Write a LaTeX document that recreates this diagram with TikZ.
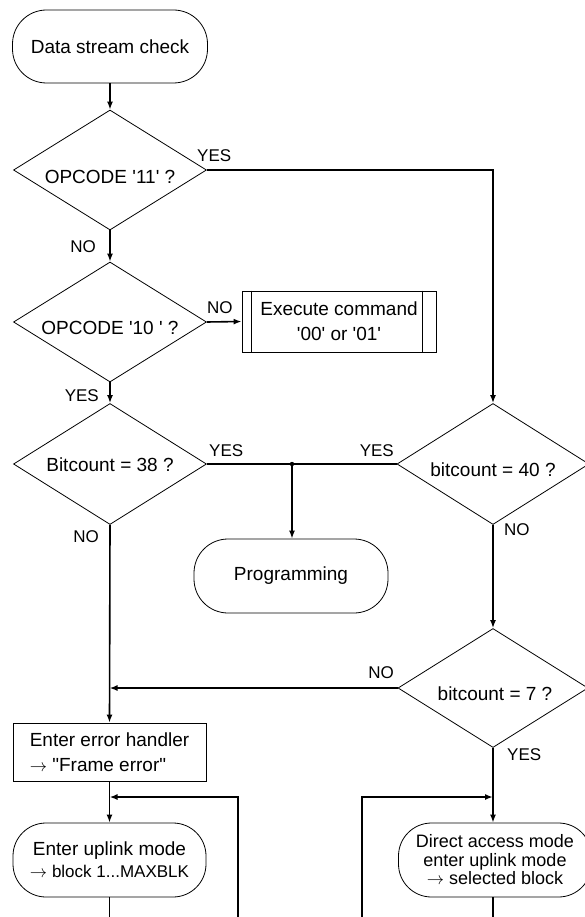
\documentclass[tikz,border=0pt]{standalone}
\usepackage{fontspec}
\setmainfont{Liberation Sans}[Ligatures=TeXOff]
\usetikzlibrary{shapes.geometric,arrows.meta}
\begin{document}
\begin{tikzpicture}[x=1pt,y=-1pt,
  shapeline/.style={draw=black, line width=0.8pt},
  termbox/.style={shapeline, rectangle, rounded corners=34pt, minimum width=194pt, minimum height=73pt, inner sep=0pt, font=\fontsize{19}{22}\selectfont, align=center},
  diabox/.style={shapeline, diamond, minimum width=193pt, minimum height=120pt, inner sep=0pt, aspect=1.6},
  dtext/.style={font=\fontsize{19}{22}\selectfont, inner sep=0pt},
  procbox/.style={shapeline, rectangle, inner sep=0pt, font=\fontsize{19}{25}\selectfont},
  flowarrow/.style={line width=1.6pt, -{Latex[length=8pt,width=6pt]}},
  plainline/.style={line width=1.6pt},
  yeslab/.style={font=\fontsize{17}{20}\selectfont, inner sep=0pt},
]
\useasboundingbox (0,0) rectangle (584,917);

% nodes
\node[termbox, minimum width=195pt] (start) at (110,46.5) {Data stream check};

\node[diabox] (d1) at (110,170) {};
\node[dtext] (t1) at (110,177) {OPCODE '11' ?};

\node[diabox] (d2) at (110,322) {};
\node[dtext] (t2) at (110,328) {OPCODE '10 ' ?};

\node[procbox, minimum width=194pt, minimum height=61pt, align=center] (proc) at (339,321.5) {Execute command\\'00' or '01'};
\draw[shapeline] ([xshift=10pt]proc.north west) -- ([xshift=10pt]proc.south west);
\draw[shapeline] ([xshift=-14pt]proc.north east) -- ([xshift=-14pt]proc.south east);

\node[diabox, minimum height=121pt] (d3) at (110,464) {};
\node[dtext] (t3) at (110,465) {Bitcount = 38 ?};

\node[diabox, minimum width=192pt, minimum height=121pt] (d4) at (493,464) {};
\node[dtext] (t4) at (493,470) {bitcount = 40 ?};

\node[termbox, minimum width=194pt, minimum height=74pt] (prog) at (291,576) {Programming};

\node[diabox, minimum width=190pt, minimum height=119pt] (d5) at (493,688) {};
\node[dtext] (t5) at (495,694) {bitcount = 7 ?};

\node[procbox, minimum width=193pt, minimum height=58pt, align=left] (err) at (109.5,752) {Enter error handler\\$\rightarrow$ "Frame error"};

\node[termbox, minimum width=193pt, minimum height=74pt, rounded corners=33pt] (up) at (109.5,860) {Enter uplink mode\\{\fontsize{17}{22}\selectfont $\rightarrow$ block 1...MAXBLK}};

\node[termbox, minimum width=193pt, minimum height=74pt, rounded corners=33pt, font=\fontsize{18}{18.5}\selectfont] (dir) at (495,860) {Direct access mode\\enter uplink mode\\$\rightarrow$ selected block};

% connectors
\draw[flowarrow] (start.south) -- (d1.north);
\draw[flowarrow] (d1.east) -| (d4.north);
\draw[flowarrow] (d1.south) -- (d2.north);
\draw[flowarrow] (d2.east) -- (proc.west);
\draw[flowarrow] (d2.south) -- (d3.north);
\draw[plainline] (d3.east) -- (d4.west);
\coordinate (j) at (292,464);
\fill (j) circle (2.2pt);
\draw[flowarrow] (j) -- (j |- prog.north);
\draw[flowarrow] (d3.south) -- (err.north);
\draw[flowarrow] (d4.south) -- (d5.north);
\draw[flowarrow] (d5.west) -- (d5.west -| err.north);
\draw[flowarrow] (err.south) -- (up.north);
\draw[flowarrow] (d5.south) -- (d5.south |- dir.north);

\coordinate (lb) at (238,917);
\coordinate (lt) at (238,797);
\draw[flowarrow] (lb) -- (lt) -- (lt -| err.south);
\coordinate (rb) at (362,917);
\coordinate (rt) at (362,797);
\draw[flowarrow] (rb) -- (rt) -- (rt -| d5.south);
\draw[plainline] (up.south) -- (up.south |- lb);
\draw[plainline] (d5.south |- dir.south) -- (d5.south |- rb);

% labels
\node[yeslab, anchor=west] (l1) at (197,156) {YES};
\node[yeslab, anchor=east] (l2) at (96,247) {NO};
\node[yeslab, anchor=west] (l3) at (207,308) {NO};
\node[yeslab, anchor=east] (l4) at (99,396) {YES};
\node[yeslab, anchor=west] (l5) at (209,451) {YES};
\node[yeslab, anchor=east] (l6) at (394,451) {YES};
\node[yeslab, anchor=east] (l7) at (99,537) {NO};
\node[yeslab, anchor=west] (l8) at (504,530) {NO};
\node[yeslab, anchor=east] (l9) at (394,673) {NO};
\node[yeslab, anchor=west] (l10) at (507,755) {YES};
\end{tikzpicture}
\end{document}
